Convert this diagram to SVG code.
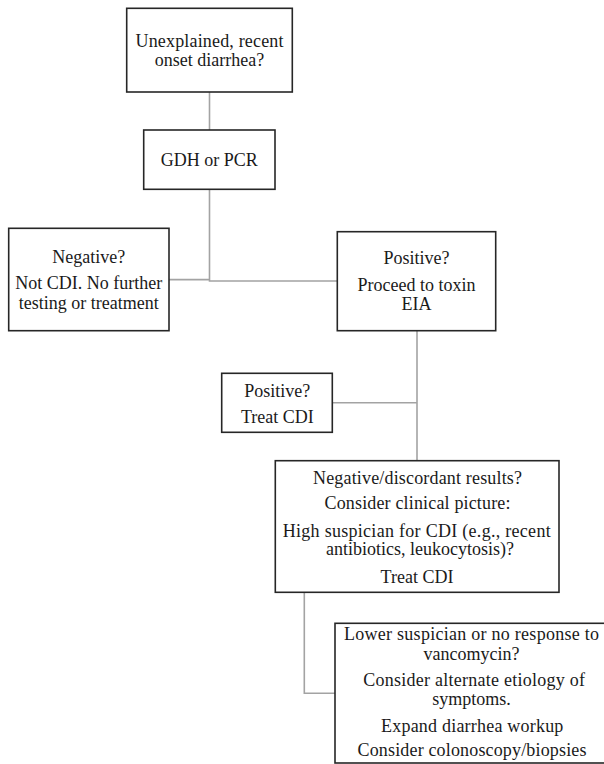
<svg xmlns="http://www.w3.org/2000/svg" width="604" height="764" viewBox="0 0 604 764">
<style>
.box{fill:#fff;stroke:#262626;stroke-width:1.6}
.con{fill:none;stroke:#a3a3a3;stroke-width:1.6}
text{font-family:"Liberation Serif","Tinos","Times New Roman","DejaVu Serif",serif;font-size:18px;fill:#1a1a1a;text-anchor:middle}
</style>
<rect width="604" height="764" fill="#fff"/>
<g id="connectors">
<path class="con" d="M209.5,92 V130"/>
<path class="con" d="M209.5,189.3 V281 H337.3"/>
<path class="con" d="M169,279.6 H209.5"/>
<path class="con" d="M417,330.7 V460.7"/>
<path class="con" d="M332.3,402.7 H417"/>
<path class="con" d="M304.3,592.3 V693.3 H335"/>
</g>
<g id="n1">
<rect class="box" x="126.7" y="8.3" width="165.6" height="83.7"/>
<text x="209.5" y="46.5" textLength="148" lengthAdjust="spacing">Unexplained, recent</text>
<text x="209.5" y="65.7">onset diarrhea?</text>
</g>
<g id="n2">
<rect class="box" x="143.7" y="130" width="131.3" height="59.3"/>
<text x="209.3" y="165.7">GDH or PCR</text>
</g>
<g id="n3">
<rect class="box" x="8.7" y="228.3" width="160.3" height="102.4"/>
<text x="88.8" y="263">Negative?</text>
<text x="88.8" y="289.3">Not CDI. No further</text>
<text x="88.8" y="308.5">testing or treatment</text>
</g>
<g id="n4">
<rect class="box" x="337.3" y="231.7" width="158.4" height="99"/>
<text x="416.5" y="264.3">Positive?</text>
<text x="416.5" y="290.7">Proceed to toxin</text>
<text x="416.5" y="310">EIA</text>
</g>
<g id="n5">
<rect class="box" x="221.7" y="373.3" width="110.6" height="59"/>
<text x="277.3" y="396.7">Positive?</text>
<text x="277.3" y="422.7">Treat CDI</text>
</g>
<g id="n6">
<rect class="box" x="275.3" y="460.7" width="283.7" height="131.6"/>
<text x="417.5" y="484.3" textLength="209" lengthAdjust="spacing">Negative/discordant results?</text>
<text x="417.5" y="509.3" textLength="186" lengthAdjust="spacing">Consider clinical picture:</text>
<text x="416.7" y="536.7" textLength="268" lengthAdjust="spacing">High suspician for CDI (e.g., recent</text>
<text x="420" y="555">antibiotics, leukocytosis)?</text>
<text x="417" y="583">Treat CDI</text>
</g>
<g id="n7">
<rect class="box" x="335" y="623.3" width="273" height="139.7"/>
<text x="471.5" y="640" textLength="255" lengthAdjust="spacing">Lower suspician or no response to</text>
<text x="471.5" y="659.5">vancomycin?</text>
<text x="474.2" y="686.3" textLength="221.7" lengthAdjust="spacing">Consider alternate etiology of</text>
<text x="471.5" y="705.2">symptoms.</text>
<text x="472.2" y="732" textLength="182.3" lengthAdjust="spacing">Expand diarrhea workup</text>
<text x="472" y="755.5" textLength="229" lengthAdjust="spacing">Consider colonoscopy/biopsies</text>
</g>
</svg>
